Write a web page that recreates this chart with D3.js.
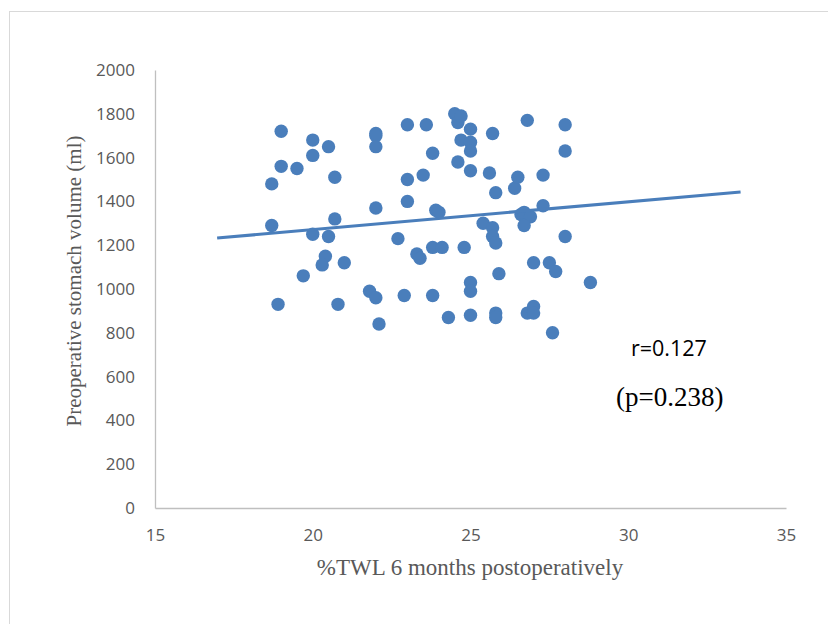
<!DOCTYPE html>
<meta charset="utf-8">
<style>
  body { margin:0; background:#fff; }
  svg { display:block; }
  .tick text { font-family:"Open Sans", sans-serif; font-size:17px; fill:#595959; }
  .title { font-family:"Liberation Serif", serif; fill:#595959; }
</style>
<svg width="828" height="624"></svg>
<script src="https://cdn.jsdelivr.net/npm/d3@7"></script>
<script>

// %TWL at 6 months vs preoperative stomach volume
var twl = [18.7, 18.7, 19.0, 19.0, 19.5, 20.0, 20.0, 20.5, 20.7, 20.7,
           20.0, 20.5, 20.4, 20.3, 21.0, 19.7, 18.9, 20.8, 21.8, 22.0,
           22.0, 22.0, 22.0, 22.0, 22.1, 22.7, 22.9, 23.0, 23.0, 23.0,
           23.3, 23.4, 23.5, 23.6, 23.8, 23.8, 23.8, 23.9, 24.0, 24.1,
           24.3, 24.5, 24.6, 24.7, 24.6, 24.7, 24.8, 25.0, 25.0, 25.0,
           25.0, 25.0, 25.0, 25.0, 25.4, 25.6, 25.7, 25.7, 25.7, 25.8,
           25.8, 25.8, 25.8, 25.9, 26.4, 26.5, 26.6, 26.7, 26.9, 26.7,
           26.8, 26.8, 27.0, 27.0, 27.0, 27.3, 27.3, 27.5, 27.6, 27.7,
           28.0, 28.0, 28.0, 28.8];
var volume = [1290, 1480, 1720, 1560, 1550, 1680, 1610, 1650, 1510, 1320,
              1250, 1240, 1150, 1110, 1120, 1060, 930, 930, 990, 1710,
              1700, 1650, 1370, 960, 840, 1230, 970, 1750, 1500, 1400,
              1160, 1140, 1520, 1750, 1620, 1190, 970, 1360, 1350, 1190,
              870, 1800, 1760, 1790, 1580, 1680, 1190, 1730, 1670, 1630,
              1540, 1030, 990, 880, 1300, 1530, 1710, 1280, 1240, 1440,
              1210, 890, 870, 1070, 1460, 1510, 1340, 1350, 1330, 1290,
              1770, 890, 1120, 920, 890, 1520, 1380, 1120, 800, 1080,
              1750, 1630, 1240, 1030];

// linear trendline end points
var trendX = [16.97, 33.56];
var trendY = [1233, 1443];

var xTicks = [15, 20, 25, 30, 35];
var yTicks = [0, 200, 400, 600, 800, 1000, 1200, 1400, 1600, 1800, 2000];

var svg = d3.select("svg");

svg.append("rect")
    .attr("x", 9.5).attr("y", 11.5)
    .attr("width", 830).attr("height", 630)
    .attr("fill", "none")
    .attr("stroke", "#d9d9d9");

var x = d3.scaleLinear().domain([15, 35]).range([155, 786]);
var y = d3.scaleLinear().domain([0, 2000]).range([508, 70]);

svg.append("g")
    .attr("transform", "translate(155,0)")
    .call(d3.axisLeft(y).tickValues(yTicks).tickFormat(d3.format("d")).tickSize(0).tickPadding(20));

svg.append("g")
    .attr("transform", "translate(0,508)")
    .call(d3.axisBottom(x).tickValues(xTicks).tickFormat(d3.format("d")).tickSize(0).tickPadding(21));

svg.selectAll(".domain").attr("stroke", "#bfbfbf").attr("stroke-width", 1.3);

svg.append("g")
  .selectAll("circle")
  .data(twl)
  .enter().append("circle")
    .attr("cx", function(d) { return x(d); })
    .attr("cy", function(d, i) { return y(volume[i]); })
    .attr("r", 6.7)
    .attr("fill", "#4a7ebb");

svg.append("line")
    .attr("x1", x(trendX[0])).attr("y1", y(trendY[0]))
    .attr("x2", x(trendX[1])).attr("y2", y(trendY[1]))
    .attr("stroke", "#4a7ebb")
    .attr("stroke-width", 3.2);

svg.append("text")
    .attr("class", "title")
    .attr("x", 470).attr("y", 575)
    .attr("text-anchor", "middle")
    .style("font-size", "23px")
    .text("%TWL 6 months postoperatively");

svg.append("text")
    .attr("class", "title")
    .attr("transform", "translate(81,281)rotate(-90)")
    .attr("text-anchor", "middle")
    .style("font-size", "21px")
    .text("Preoperative stomach volume (ml)");

svg.append("text")
    .attr("x", 631).attr("y", 356)
    .style("font-family", "'Open Sans', sans-serif")
    .style("font-size", "21.5px")
    .attr("fill", "#000")
    .text("r=0.127");

svg.append("text")
    .attr("x", 616).attr("y", 406)
    .style("font-family", "'Liberation Serif', serif")
    .style("font-size", "27px")
    .attr("fill", "#000")
    .text("(p=0.238)");

</script>
